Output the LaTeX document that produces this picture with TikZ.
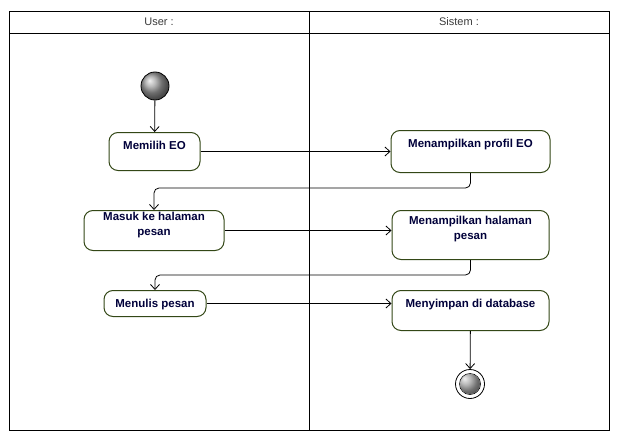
\documentclass[tikz,border=0pt]{standalone}
\usepackage{fontspec}
\setmainfont{Liberation Sans}
\usetikzlibrary{arrows.meta,shadings}

\definecolor{boxline}{HTML}{334716}
\definecolor{boxtext}{HTML}{00003A}
\definecolor{headtext}{HTML}{3A3A3A}

\begin{document}
\begin{tikzpicture}[
  x=1pt,
  y=-1pt,
  font=\fontsize{11}{15}\selectfont,
  act/.style={draw=boxline, line width=1pt, rounded corners=9pt, fill=white, text=boxtext, font=\fontsize{11.5}{15}\selectfont\bfseries,
    align=center, anchor=north, inner xsep=4pt, inner ysep=5pt, text height=12pt},
  head/.style={text=headtext, font=\fontsize{11}{12}\selectfont},
  arr/.style={-{Straight Barb[length=5pt,width=9pt]}, line width=0.8pt},
  startdot/.style={circle, draw=black, line width=0.8pt, minimum size=28pt, inner sep=0pt, ball color=gray!75},
  enddot/.style={circle, draw=black, line width=0.8pt, minimum size=29pt, inner sep=0pt, fill=white, path picture={
    \shade[ball color=gray!75] (path picture bounding box.center) circle (10pt);
    \draw[line width=0.6pt] (path picture bounding box.center) circle (10.5pt);}}
]
\useasboundingbox (0,0) rectangle (620,441);

% Swimlanes
\draw[line width=0.8pt] (9,11) rectangle (609,430);
\draw[line width=0.8pt] (9,33) -- (609,33);
\draw[line width=0.8pt] (309,11) -- (309,430);
\node[head] (laneUser)   at (159,22) {User :};
\node[head] (laneSistem) at (459,22) {Sistem :};

% Start / end
\node[startdot] (start) at (155,86) {};
\node[enddot]   (stop)  at (470,384) {};

% Kolom user
\node[act, minimum width=91pt, minimum height=38pt, text depth=16pt] (pilih) at (154.5,132) {Memilih EO};
\node[act, minimum width=140pt, minimum height=40pt] (masuk) at (154,210) {Masuk ke halaman\\pesan};
\node[act, minimum width=102pt, minimum height=26pt, inner ysep=3pt, text height=11pt] (tulis) at (155,290) {Menulis pesan};

% Kolom sistem
\node[act, minimum width=159pt, minimum height=42pt, text depth=20pt] (profil) at (470.5,130) {Menampilkan profil EO};
\node[act, minimum width=157pt, minimum height=49pt] (halaman) at (470.5,210) {Menampilkan halaman\\pesan};
\node[act, minimum width=157pt, minimum height=40pt, text depth=18pt] (simpan) at (470.5,290) {Menyimpan di database};

% Alur
\draw[arr] (start) -- (pilih);
\draw[arr] (pilih) -- (pilih -| profil.west);
\draw[arr, rounded corners=5pt] (profil.south) -- ++(0,15) -| (masuk.north);
\draw[arr] (masuk) -- (masuk -| halaman.west);
\draw[arr, rounded corners=5pt] (halaman.south) -- ++(0,15) -| (tulis.north);
\draw[arr] (tulis) -- (tulis -| simpan.west);
\draw[arr] (simpan) -- (stop);

\end{tikzpicture}
\end{document}
